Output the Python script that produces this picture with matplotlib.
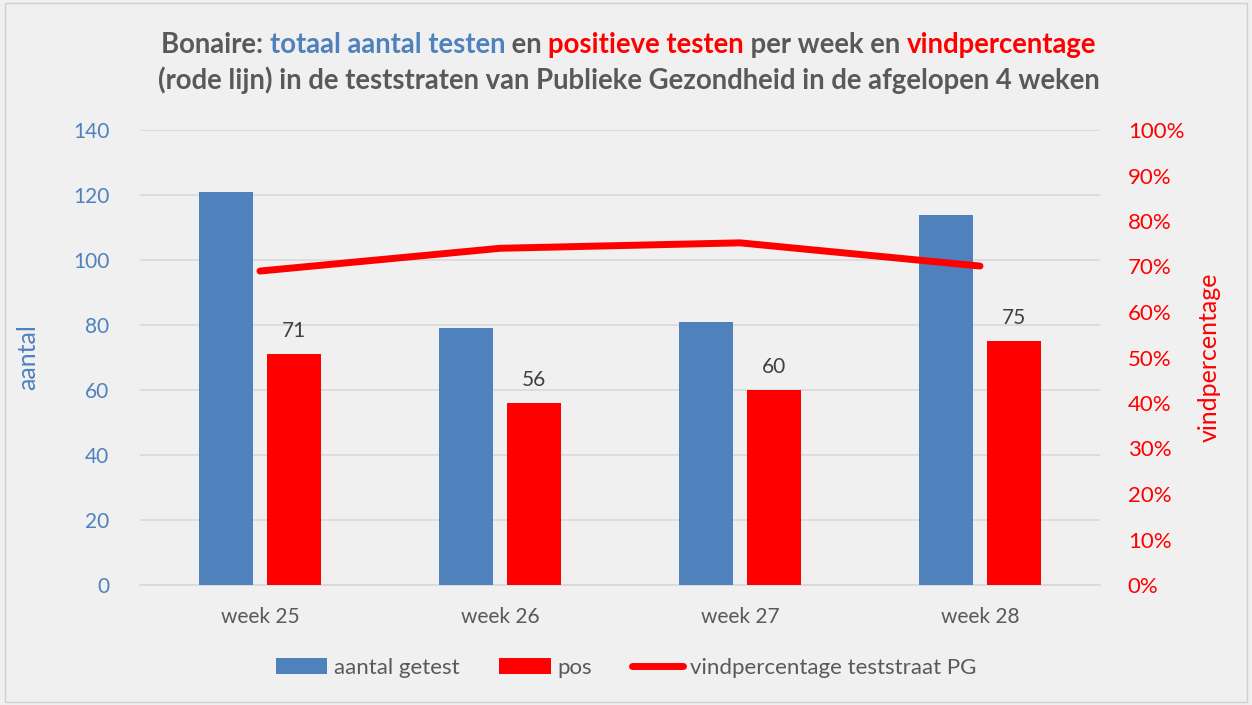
import matplotlib.pyplot as plt
import numpy as np
from matplotlib.offsetbox import TextArea, HPacker, AnchoredOffsetbox
from matplotlib.patches import Rectangle
from matplotlib.ticker import PercentFormatter

# Data
weeks = ["week 25", "week 26", "week 27", "week 28"]
getest = [121, 79, 81, 114]
pos = [71, 56, 60, 75]
vindpct = [69, 74, 75.2, 70.1]

blue = "#4f81bd"
red = "#ff0000"
grey = "#595959"

plt.rcParams['font.family'] = ['Lato', 'DejaVu Sans']

fig = plt.figure(figsize=(12.52, 7.05), dpi=100, facecolor="#f0f0f0")
fig.patches.append(Rectangle((0.004, 0.004), 0.992, 0.992, transform=fig.transFigure,
                             fill=False, edgecolor="#d0d0d0", lw=1))
ax = fig.add_axes([140/1252, 1-585/705, 960/1252, 455/705])
ax.set_facecolor("#f0f0f0")

x = np.arange(len(weeks))
w = 0.224
ax.bar(x - 0.143, getest, w, color=blue, label="aantal getest", zorder=3)
bars = ax.bar(x + 0.143, pos, w, color=red, label="pos", zorder=3)
for b, v in zip(bars, pos):
    ax.text(b.get_x() + b.get_width()/2, v + 4, str(v), ha="center", va="bottom",
            fontsize=15, color="#404040")

ax.set_ylim(0, 140)
ax.set_xlim(-0.5, 3.5)
ax.set_yticks(range(0, 141, 20))
ax.set_xticks(x)
ax.set_xticklabels(weeks, fontsize=15, color=grey)
ax.tick_params(axis="y", colors=blue, labelsize=15, length=0, pad=22)
ax.tick_params(axis="x", length=0, pad=16)
ax.grid(axis="y", color="#d9d9d9", lw=1.2, zorder=0)
for s in ["top", "left", "right"]:
    ax.spines[s].set_visible(False)
ax.spines["bottom"].set_color("#d9d9d9")
ax.spines["bottom"].set_linewidth(1.2)
ax.set_ylabel("aantal", color=blue, fontsize=18, labelpad=24)

ax2 = ax.twinx()
line, = ax2.plot(x, vindpct, color=red, lw=5, solid_capstyle="round",
                 label="vindpercentage teststraat PG", zorder=4)
ax2.set_ylim(0, 100)
ax2.set_yticks(range(0, 101, 10))
ax2.yaxis.set_major_formatter(PercentFormatter(decimals=0))
ax2.tick_params(axis="y", colors=red, labelsize=16, length=0, pad=20)
for s in ["top", "left", "right", "bottom"]:
    ax2.spines[s].set_visible(False)
ax2.set_ylabel("vindpercentage", color=red, fontsize=18, labelpad=10)

h1, l1 = ax.get_legend_handles_labels()
leg = fig.legend(h1 + [line], l1 + ["vindpercentage teststraat PG"], loc="center",
                 bbox_to_anchor=(0.5, 1-668/705), ncol=3, frameon=False, fontsize=16,
                 handlelength=2.3, handleheight=0.7, columnspacing=1.8, handletextpad=0.3)
for t in leg.get_texts():
    t.set_color(grey)

# Title with coloured parts
def title_line(parts, y):
    boxes = [TextArea(t, textprops=dict(color=c, fontsize=19.8, fontweight="bold"))
             for t, c in parts]
    pack = HPacker(children=boxes, align="baseline", pad=0, sep=0)
    ab = AnchoredOffsetbox(loc="center", child=pack, frameon=False,
                           bbox_to_anchor=(0.502, y), bbox_transform=fig.transFigure,
                           borderpad=0, pad=0)
    fig.add_artist(ab)

title_line([("Bonaire: ", grey), ("totaal aantal testen", blue), (" en ", grey),
            ("positieve testen", red), (" per week en ", grey), ("vindpercentage", red)],
           1-45/705)
title_line([("(rode lijn) in de teststraten van Publieke Gezondheid in de afgelopen 4 weken", grey)],
           1-80/705)

fig.savefig("out.png", dpi=100, facecolor=fig.get_facecolor())
